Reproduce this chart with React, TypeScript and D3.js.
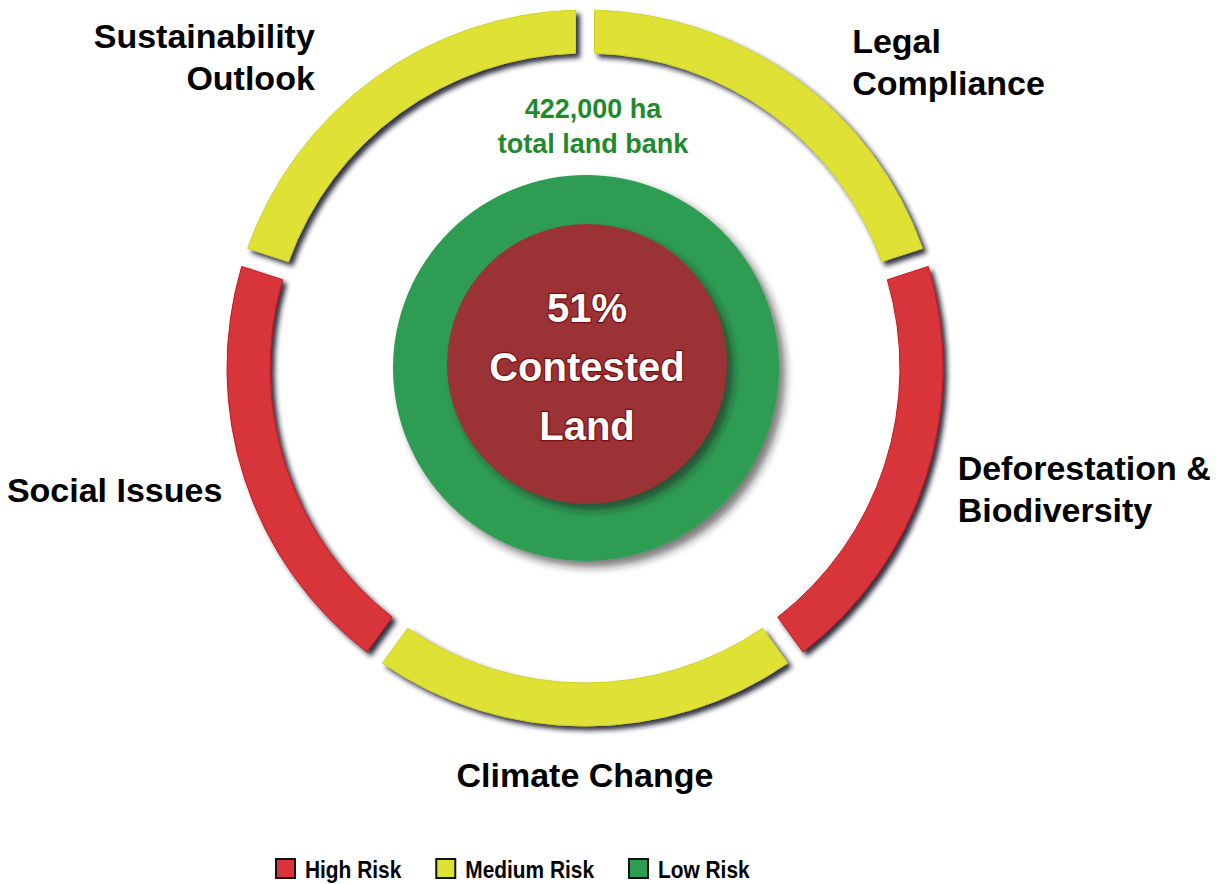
import React, { useEffect, useRef } from 'react';
import * as d3 from 'd3';

// risk ring: five equal segments, clockwise from 12 o'clock
const categories = ['Legal Compliance', 'Deforestation & Biodiversity', 'Climate Change', 'Social Issues', 'Sustainability Outlook'];
const riskLevels = ['Medium', 'High', 'Medium', 'High', 'Medium'];
const segmentWeights = [1, 1, 1, 1, 1];
const labelLines = [['Legal', 'Compliance'], ['Deforestation &', 'Biodiversity'], ['Climate Change'], ['Social Issues'], ['Sustainability', 'Outlook']];

const legendLevels = ['High', 'Medium', 'Low'];
const legendLabels = ['High Risk', 'Medium Risk', 'Low Risk'];

const contestedShare = 51;
const landBankHa = 422000;

const riskColor: Record<string, string> = { High: '#d8353b', Medium: '#dfe236', Low: '#2e9d52' };
const riskEdge: Record<string, string> = { High: '#c8161e', Medium: '#cfd22a', Low: '#258a45' };

const App = () => {
  const ref = useRef<SVGSVGElement>(null);

  useEffect(() => {
    const width = 1231, height = 884;
    const cx = 585, cy = 368;
    const outerR = 358, innerR = 315;
    const font = '"Liberation Sans", Arial, sans-serif';

    const svg = d3.select(ref.current);
    svg.selectAll('*').remove();

    const defs = svg.append('defs');
    defs.append('filter').attr('id', 'ringShadow')
      .attr('x', '-20%').attr('y', '-20%').attr('width', '140%').attr('height', '140%')
      .append('feDropShadow')
      .attr('dx', 4).attr('dy', 4).attr('stdDeviation', 2.5)
      .attr('flood-color', '#16162c').attr('flood-opacity', 0.9);
    defs.append('filter').attr('id', 'discShadow')
      .attr('x', '-20%').attr('y', '-20%').attr('width', '140%').attr('height', '140%')
      .append('feDropShadow')
      .attr('dx', 6).attr('dy', 6).attr('stdDeviation', 4)
      .attr('flood-color', '#222').attr('flood-opacity', 0.6);

    const g = svg.append('g').attr('transform', `translate(${cx},${cy})`);

    // outer ring
    const pie = d3.pie<number>().sort(null).value((d) => d)
      .startAngle(0).endAngle(2 * Math.PI);
    const arcs = pie(segmentWeights);

    const arc = d3.arc<d3.PieArcDatum<number>>()
      .innerRadius(innerR)
      .outerRadius(outerR)
      .padRadius(336)
      .padAngle(19 / 336);

    g.selectAll('path.seg')
      .data(arcs)
      .enter()
      .append('path')
      .attr('class', 'seg')
      .attr('d', arc)
      .attr('fill', (d, i) => riskColor[riskLevels[i]])
      .attr('stroke', (d, i) => riskEdge[riskLevels[i]])
      .attr('stroke-width', 1)
      .attr('filter', 'url(#ringShadow)');

    // segment labels, placed around the ring at each mid angle
    const labelR = 395;
    const labelNudge = [
      { dx: 35, dy: 5, anchor: 'start' },
      { dx: -3, dy: -10, anchor: 'start' },
      { dx: 0, dy: 24, anchor: 'middle' },
      { dx: 13, dy: 12, anchor: 'end' },
      { dx: -38, dy: 0, anchor: 'end' },
    ];
    arcs.forEach((d, i) => {
      const mid = (d.startAngle + d.endAngle) / 2;
      const x = labelR * Math.sin(mid) + labelNudge[i].dx;
      const y = -labelR * Math.cos(mid) + labelNudge[i].dy;
      const t = g.append('text')
        .attr('x', x).attr('y', y)
        .attr('text-anchor', labelNudge[i].anchor)
        .style('font-family', font)
        .style('font-weight', 700)
        .style('font-size', '34px')
        .attr('fill', '#000');
      labelLines[i].forEach((line, j) => {
        t.append('tspan').attr('x', x).attr('dy', j === 0 ? 0 : 42).text(line);
      });
    });

    // land bank discs
    g.append('circle')
      .attr('cx', 1).attr('cy', 0).attr('r', 193)
      .attr('fill', riskColor.Low)
      .attr('filter', 'url(#discShadow)');
    g.append('circle')
      .attr('cx', 2).attr('cy', -4).attr('r', 140)
      .attr('fill', '#9b3034')
      .attr('filter', 'url(#discShadow)');

    const centerLines = [`${contestedShare}%`, 'Contested', 'Land'];
    g.selectAll('text.center')
      .data(centerLines)
      .enter()
      .append('text')
      .attr('class', 'center')
      .attr('x', 2)
      .attr('y', (d, i) => -46 + i * 59)
      .attr('text-anchor', 'middle')
      .style('font-family', font)
      .style('font-weight', 700)
      .style('font-size', '40px')
      .style('paint-order', 'stroke')
      .attr('fill', '#fff')
      .attr('stroke', '#7a0f12')
      .attr('stroke-width', 2.5)
      .text((d) => d);

    const bankLines = [`${d3.format(',')(landBankHa)} ha`, 'total land bank'];
    g.selectAll('text.bank')
      .data(bankLines)
      .enter()
      .append('text')
      .attr('class', 'bank')
      .attr('x', 8)
      .attr('y', (d, i) => -250 + i * 35)
      .attr('text-anchor', 'middle')
      .style('font-family', font)
      .style('font-weight', 700)
      .style('font-size', '27px')
      .attr('fill', '#1f8a2c')
      .text((d) => d);

    // legend: each item starts after the previous label
    const squeeze = 0.87;
    let x = 275;
    legendLevels.forEach((lvl, i) => {
      const item = svg.append('g').attr('transform', `translate(${x},858)`);
      item.append('rect')
        .attr('x', 1).attr('y', 1).attr('width', 19).attr('height', 19)
        .attr('fill', riskColor[lvl])
        .attr('stroke', '#111').attr('stroke-width', 2);
      const txt = item.append('text')
        .attr('transform', `translate(30,20) scale(${squeeze},1)`)
        .style('font-family', font)
        .style('font-weight', 700)
        .style('font-size', '24px')
        .attr('fill', '#000')
        .text(legendLabels[i]);
      const w = (txt.node() as SVGTextElement).getComputedTextLength() * squeeze;
      x += 30 + w + 34;
    });

    svg.attr('width', width).attr('height', height);
  }, []);

  return (
    <svg
      ref={ref}
      width={1231}
      height={884}
      style={{ position: 'absolute', left: 0, top: 0, background: '#fff', display: 'block' }}
    />
  );
};

export default App;
